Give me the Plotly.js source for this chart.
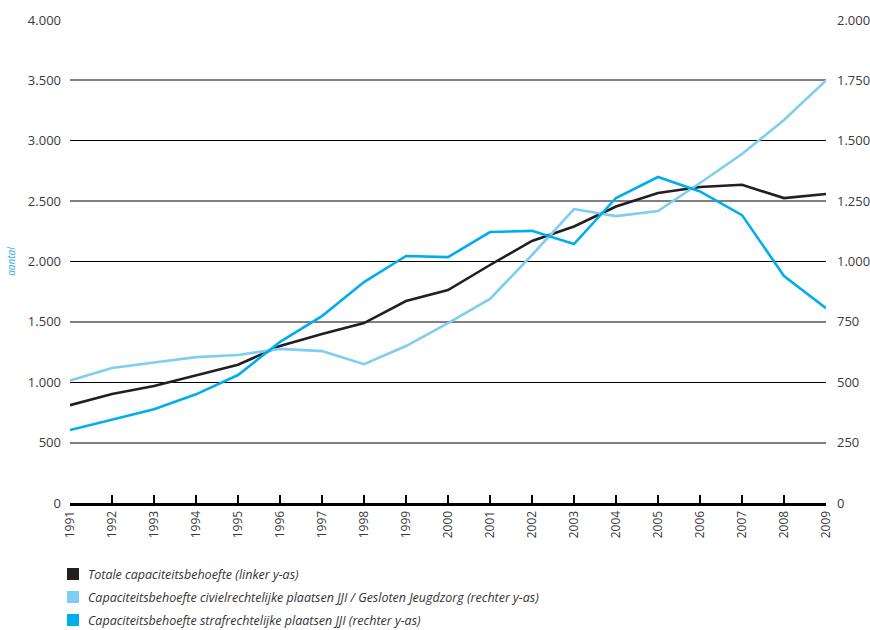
<!DOCTYPE html>
<html>
<head>
<meta charset="utf-8">
<script src="https://cdn.plot.ly/plotly-3.0.1.min.js"></script>
<style>html,body{margin:0;padding:0;background:#fff;}#chart{width:870px;height:630px;}</style>
</head>
<body>
<div id="chart"></div>
<script>
const years = [1991,1992,1993,1994,1995,1996,1997,1998,1999,2000,2001,2002,2003,2004,2005,2006,2007,2008,2009];
const totaal = [810,903,969,1060,1145,1300,1400,1490,1673,1764,1971,2170,2290,2455,2567,2617,2635,2525,2559];
const civiel = [507,559,582,604,613,638,629,575,650,745,845,1027,1217,1188,1209,1325,1445,1586,1750];
const straf = [302,344,388,450,530,667,774,915,1023,1018,1122,1127,1072,1263,1350,1290,1192,940,807];
const names = [
  'Totale capaciteitsbehoefte (linker y-as)',
  'Capaciteitsbehoefte civielrechtelijke plaatsen JJI / Gesloten Jeugdzorg (rechter y-as)',
  'Capaciteitsbehoefte strafrechtelijke plaatsen JJI (rechter y-as)'
];
const colors = ['#231f20', '#7fcdf2', '#00aeef'];
const leftTicks = [0,500,1000,1500,2000,2500,3000,3500,4000];
const rightTicks = [0,250,500,750,1000,1250,1500,1750,2000];
const grayGrid = [500,1500,2500,3500];
const blackGrid = [1000,2000,3000,4000];

const font = 'Open Sans, Noto Sans, sans-serif';

const W = 870, H = 630;
const M = {l: 70, r: 44, t: 20, b: 127};
const pw = W - M.l - M.r, ph = H - M.t - M.b;
// convert pixel positions (legend block layout) into paper coordinates
const px2x = p => (p - M.l) / pw;
const px2y = p => (H - M.b - p) / ph;

const traces = [
  {x: years, y: totaal, yaxis: 'y', mode: 'lines', line: {color: colors[0], width: 2.6}, hoverinfo: 'skip'},
  {x: years, y: civiel, yaxis: 'y2', mode: 'lines', line: {color: colors[1], width: 2.6}, hoverinfo: 'skip'},
  {x: years, y: straf, yaxis: 'y2', mode: 'lines', line: {color: colors[2], width: 2.6}, hoverinfo: 'skip'},
  {x: [null], y: [null], yaxis: 'y3', mode: 'lines', hoverinfo: 'skip'},
  {x: [null], y: [null], yaxis: 'y4', mode: 'lines', hoverinfo: 'skip'}
];

const legendTop = 574, legendStep = 23;
const shapes = [], annotations = [];
names.forEach((n, i) => {
  const cy = legendTop + i * legendStep;
  shapes.push({type: 'rect', xref: 'paper', yref: 'paper',
    x0: px2x(67), x1: px2x(79), y0: px2y(cy - 6), y1: px2y(cy + 6),
    fillcolor: colors[i], line: {width: 0}});
  annotations.push({xref: 'paper', yref: 'paper', x: px2x(86), y: px2y(cy),
    xanchor: 'left', yanchor: 'middle', showarrow: false, text: '<i>' + n + '</i>',
    font: {family: font, size: 12.5, color: '#333'}});
});

const layout = {
  width: W, height: H,
  margin: M,
  paper_bgcolor: '#fff', plot_bgcolor: '#fff',
  separators: ',.',
  font: {family: font, size: 12, color: '#3a3a3a'},
  showlegend: false,
  shapes: shapes,
  annotations: annotations,
  xaxis: {
    range: [1991, 2009], tickvals: years, ticktext: years.map(String),
    tickangle: -90, tickfont: {size: 12, color: '#3a3a3a'},
    ticks: 'inside', ticklen: 8, tickwidth: 1.5, tickcolor: '#000',
    showline: true, linecolor: '#000', linewidth: 3, showgrid: false, zeroline: false,
    fixedrange: true
  },
  yaxis: {
    range: [0, 4000], tickvals: leftTicks, tickformat: ',d',
    showgrid: false, zeroline: false, ticks: '', ticklabelstandoff: 8,
    title: {text: '<i>aantal</i>', font: {family: font, size: 10, color: '#29aae2'}, standoff: 10},
    tickfont: {size: 13, color: '#3a3a3a'}
  },
  yaxis2: {
    range: [0, 2000], tickvals: rightTicks, tickformat: ',d', overlaying: 'y', side: 'right',
    showgrid: false, zeroline: false, ticks: '', ticklabelstandoff: 10,
    tickfont: {size: 13, color: '#3a3a3a'}
  },
  yaxis3: {
    range: [0, 4000], tickvals: grayGrid, overlaying: 'y', showticklabels: false,
    showgrid: true, gridcolor: '#808080', gridwidth: 2, zeroline: false, ticks: ''
  },
  yaxis4: {
    range: [0, 4000], tickvals: blackGrid, overlaying: 'y', showticklabels: false,
    showgrid: true, gridcolor: '#000', gridwidth: 1, zeroline: false, ticks: ''
  }
};

Plotly.newPlot('chart', traces, layout, {displayModeBar: false, staticPlot: true});
</script>
</body>
</html>
